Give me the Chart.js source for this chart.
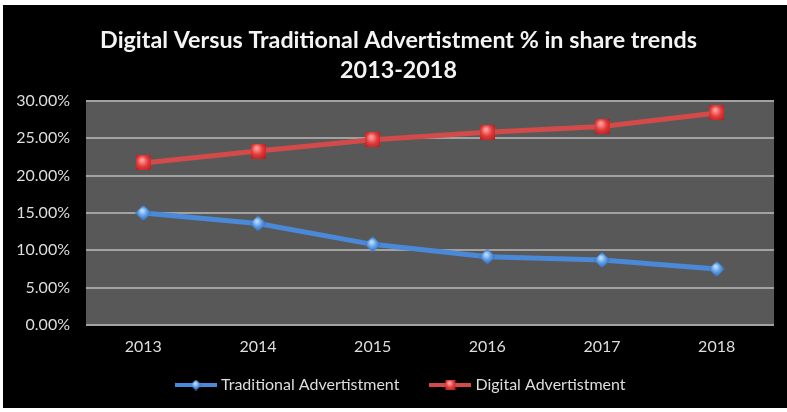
<!DOCTYPE html>
<html>
<head>
<meta charset="utf-8">
<script src="https://cdn.jsdelivr.net/npm/chart.js@4.4.1/dist/chart.umd.min.js"></script>
<style>
  html, body { margin: 0; padding: 0; background: #ffffff; }
  #c { display: block; }
</style>
</head>
<body>
<canvas id="c" width="787" height="412"></canvas>
<script>
// Share of advertising spend (%), by year
const years = ['2013', '2014', '2015', '2016', '2017', '2018'];
const traditionalShare = [15.0, 13.6, 10.8, 9.15, 8.7, 7.5];
const digitalShare = [21.7, 23.3, 24.8, 25.8, 26.6, 28.4];
const seriesNames = ['Traditional Advertistment', 'Digital Advertistment'];
const titleLines = ['Digital Versus Traditional Advertistment % in share trends', '2013-2018'];
const yMax = 30;
const yStep = 5;

const FONT = 'Lato, "Open Sans", "DejaVu Sans", sans-serif';
const RED_LINE = '#d24a4a';
const BLUE_LINE = '#4a88d8';
const TEXT = '#dedede';

// Glossy square marker
function squareMarker(size) {
  const c = document.createElement('canvas');
  c.width = size; c.height = size;
  const g = c.getContext('2d');
  const grad = g.createRadialGradient(size * 0.4, size * 0.3, 1, size / 2, size / 2, size * 0.75);
  grad.addColorStop(0, '#ff9c9c');
  grad.addColorStop(0.45, '#e33a3a');
  grad.addColorStop(1, '#a81818');
  g.fillStyle = grad;
  g.fillRect(0, 0, size, size);
  return c;
}

// Glossy diamond marker
function diamondMarker(size) {
  const c = document.createElement('canvas');
  c.width = size; c.height = size;
  const g = c.getContext('2d');
  const h = size / 2;
  const grad = g.createRadialGradient(h * 0.85, h * 0.7, 1, h, h, h);
  grad.addColorStop(0, '#b6dcff');
  grad.addColorStop(0.5, '#5a9ae6');
  grad.addColorStop(1, '#2f6ab8');
  g.fillStyle = grad;
  g.beginPath();
  g.moveTo(h, 0); g.lineTo(size, h); g.lineTo(h, size); g.lineTo(0, h);
  g.closePath();
  g.fill();
  return c;
}

// Legend swatch: a short line with the marker in the middle
function legendSwatch(color, marker) {
  const w = 42, hgt = 14;
  const c = document.createElement('canvas');
  c.width = w; c.height = hgt;
  const g = c.getContext('2d');
  g.strokeStyle = color;
  g.lineWidth = 4;
  g.beginPath(); g.moveTo(0, hgt / 2); g.lineTo(w, hgt / 2); g.stroke();
  g.drawImage(marker, (w - marker.width) / 2, (hgt - marker.height) / 2);
  return c;
}

const redMarker = squareMarker(15);
const blueMarker = diamondMarker(16);
const redSwatch = legendSwatch(RED_LINE, squareMarker(10));
const blueSwatch = legendSwatch(BLUE_LINE, diamondMarker(11));

const backdrop = {
  id: 'backdrop',
  beforeDraw(chart) {
    const ctx = chart.ctx;
    const a = chart.chartArea;
    ctx.save();
    ctx.fillStyle = '#ffffff';
    ctx.fillRect(0, 0, chart.width, chart.height);
    ctx.fillStyle = '#000000';
    ctx.fillRect(3, 5, chart.width - 3, chart.height - 9);
    ctx.fillStyle = '#585858';
    ctx.fillRect(a.left, a.top, a.right - a.left, a.bottom - a.top);
    ctx.restore();
  }
};

// Title centred on the whole frame; legend left of centre, just under the year labels
const placeBlocks = {
  id: 'placeBlocks',
  afterLayout(chart) {
    const t = chart.titleBlock;
    t.left = 10;
    t.right = chart.width;
    const lg = chart.legend;
    lg.left = 145;
    lg.right = chart.width;
    lg.top = 343;
    lg.bottom = 408;
  }
};

new Chart(document.getElementById('c'), {
  type: 'line',
  data: {
    labels: years,
    datasets: [
      {
        label: seriesNames[0],
        data: traditionalShare,
        borderColor: BLUE_LINE,
        borderWidth: 5,
        pointStyle: blueMarker,
        pointRadius: 8,
        tension: 0,
        fill: false
      },
      {
        label: seriesNames[1],
        data: digitalShare,
        borderColor: RED_LINE,
        borderWidth: 5,
        pointStyle: redMarker,
        pointRadius: 8,
        tension: 0,
        fill: false
      }
    ]
  },
  options: {
    responsive: false,
    animation: false,
    layout: { padding: { top: 5, right: 10, bottom: 9, left: 0 } },
    plugins: {
      title: {
        display: true,
        text: titleLines,
        color: '#f4f4f4',
        font: { family: FONT, size: 23.3, weight: 'bold', lineHeight: 30 / 23.3 },
        padding: { top: 20, bottom: 16 }
      },
      legend: {
        position: 'bottom',
        align: 'start',
        maxHeight: 42,
        labels: {
          usePointStyle: true,
          pointStyleWidth: 34,
          boxHeight: 13,
          padding: 34,
          color: TEXT,
          font: { family: FONT, size: 16 },
          generateLabels(chart) {
            return chart.data.datasets.map((ds, i) => ({
              text: ds.label,
              pointStyle: i === 0 ? blueSwatch : redSwatch,
              fontColor: TEXT,
              lineWidth: 0,
              hidden: false,
              datasetIndex: i
            }));
          }
        }
      },
      tooltip: { enabled: false }
    },
    scales: {
      x: {
        offset: true,
        grid: { display: false, drawTicks: false },
        border: { display: false },
        ticks: { color: TEXT, font: { family: FONT, size: 16 }, padding: 12 },
        afterFit(scale) { scale.height = 36; }
      },
      y: {
        min: 0,
        max: yMax,
        grid: { color: '#a2a2a2', lineWidth: 2, drawTicks: false },
        border: { display: false },
        ticks: {
          stepSize: yStep,
          color: TEXT,
          font: { family: FONT, size: 16 },
          padding: 16,
          callback: v => v.toFixed(2) + '%'
        },
        afterFit(scale) { scale.width = 86; }
      }
    }
  },
  plugins: [backdrop, placeBlocks]
});
</script>
</body>
</html>
